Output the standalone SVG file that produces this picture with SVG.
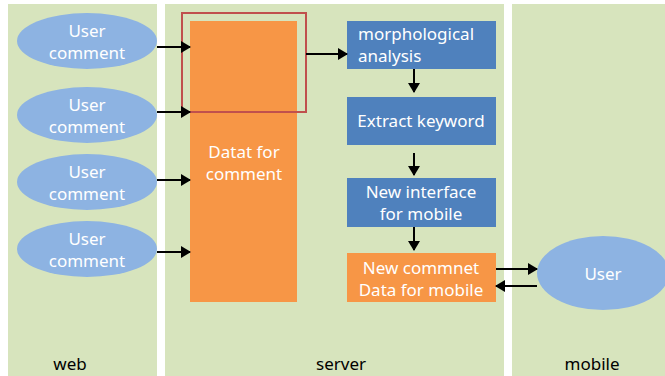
<svg xmlns="http://www.w3.org/2000/svg" width="665" height="376" viewBox="0 0 665 376">
<defs>
<marker id="ah" viewBox="0 0 10 12" refX="9" refY="6" markerWidth="10" markerHeight="12" markerUnits="userSpaceOnUse" orient="auto">
<path d="M0,0 L10,6 L0,12 z" fill="#000"/>
</marker>
<style>
.panel{fill:#D7E4BD}
.ell{fill:#8DB3E2}
.blue{fill:#4F81BD}
.orange{fill:#F79646}
.t{font-family:"Noto Sans","Open Sans",sans-serif;font-size:17px;fill:#fff;text-anchor:middle}
.tl{font-family:"Noto Sans","Open Sans",sans-serif;font-size:17px;fill:#fff}
.lab{font-family:"Noto Sans","Open Sans",sans-serif;font-size:17px;fill:#000;text-anchor:middle}
.c{stroke:#000;stroke-width:2;fill:none;marker-end:url(#ah)}
</style>
</defs>
<rect width="665" height="376" fill="#fff"/>
<g id="lanes">
<rect class="panel" x="8" y="4" width="149" height="372"/>
<rect class="panel" x="165" y="4" width="339" height="372"/>
<rect class="panel" x="512" y="4" width="153" height="372"/>
<text class="lab" x="70" y="370">web</text>
<text class="lab" x="341" y="370">server</text>
<text class="lab" x="592" y="370">mobile</text>
</g>
<g id="uc1"><ellipse class="ell" cx="87" cy="41" rx="70" ry="28"/><text class="t" x="87" y="37">User</text><text class="t" x="87" y="59">comment</text></g>
<g id="uc2"><ellipse class="ell" cx="87" cy="115" rx="70" ry="28"/><text class="t" x="87" y="111">User</text><text class="t" x="87" y="133">comment</text></g>
<g id="uc3"><ellipse class="ell" cx="87" cy="182" rx="70" ry="28"/><text class="t" x="87" y="178">User</text><text class="t" x="87" y="200">comment</text></g>
<g id="uc4"><ellipse class="ell" cx="87" cy="249" rx="70" ry="28"/><text class="t" x="87" y="245">User</text><text class="t" x="87" y="267">comment</text></g>
<g id="data"><rect class="orange" x="190" y="21" width="107" height="281"/><text class="t" x="244" y="158">Datat for</text><text class="t" x="244" y="180">comment</text></g>
<g id="highlight"><rect x="182" y="13" width="124" height="99" fill="none" stroke="#C0504D" stroke-width="2"/></g>
<g id="morph"><rect class="blue" x="347" y="21" width="149" height="48"/><text class="tl" x="358" y="40">morphological</text><text class="tl" x="358" y="62">analysis</text></g>
<g id="extract"><rect class="blue" x="347" y="97" width="149" height="48"/><text class="t" x="421" y="127">Extract keyword</text></g>
<g id="iface"><rect class="blue" x="347" y="178" width="149" height="49"/><text class="t" x="421" y="198">New interface</text><text class="t" x="421" y="220">for mobile</text></g>
<g id="newdata"><rect class="orange" x="347" y="253" width="149" height="49"/><text class="t" x="421" y="274">New commnet</text><text class="t" x="421" y="296">Data for mobile</text></g>
<g id="user"><ellipse class="ell" cx="603" cy="273" rx="66" ry="37"/><text class="t" x="603" y="280">User</text></g>
<g id="connectors">
<line class="c" x1="157" y1="47" x2="190" y2="47"/>
<line class="c" x1="157" y1="112" x2="190" y2="112"/>
<line class="c" x1="157" y1="180" x2="190" y2="180"/>
<line class="c" x1="157" y1="252" x2="190" y2="252"/>
<line class="c" x1="306" y1="54" x2="347" y2="54"/>
<line class="c" x1="414" y1="69" x2="414" y2="92"/>
<line class="c" x1="414" y1="153" x2="414" y2="175"/>
<line class="c" x1="414" y1="227" x2="414" y2="250"/>
<line class="c" x1="496" y1="269" x2="537" y2="269"/>
<line class="c" x1="537" y1="286" x2="496" y2="286"/>
</g>
</svg>
